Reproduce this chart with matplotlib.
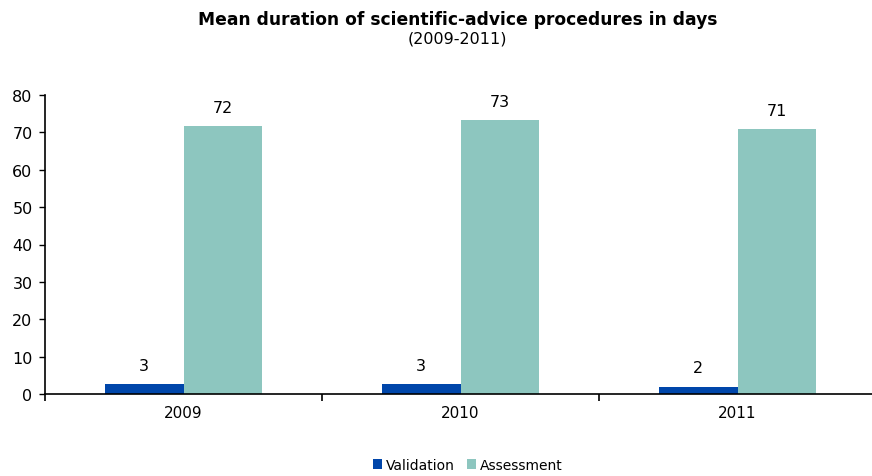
import matplotlib.pyplot as plt
from matplotlib.ticker import FixedLocator

years = ["2009", "2010", "2011"]
validation = [2.7, 2.7, 2.0]
assessment = [71.8, 73.3, 70.9]
validation_labels = ["3", "3", "2"]
assessment_labels = ["72", "73", "71"]

plt.rcParams["font.family"] = "DejaVu Sans"

fig = plt.figure(figsize=(8.72, 4.77), dpi=100)
ax = fig.add_axes([45 / 872, 1 - 395 / 477, 831 / 872, 299 / 477])

x = range(len(years))
w = 0.285
b1 = ax.bar([i - w / 2 for i in x], validation, w, color="#0046AA", label="Validation")
b2 = ax.bar([i + w / 2 for i in x], assessment, w, color="#8DC6BF", label="Assessment")

# value labels above the bars
for bar, lab in zip(b1, validation_labels):
    ax.annotate(lab, (bar.get_x() + bar.get_width() / 2, bar.get_height()),
                xytext=(0, 8), textcoords="offset points", ha="center", va="bottom", fontsize=11.5)
for bar, lab in zip(b2, assessment_labels):
    ax.annotate(lab, (bar.get_x() + bar.get_width() / 2, bar.get_height()),
                xytext=(0, 8), textcoords="offset points", ha="center", va="bottom", fontsize=11.5)

ax.set_xlim(-0.5, 2.5)
ax.set_ylim(0, 80)
ax.set_yticks(range(0, 81, 10))
ax.set_xticks(list(x))
ax.set_xticklabels(years)
ax.xaxis.set_minor_locator(FixedLocator([-0.5, 0.5, 1.5, 2.5]))
ax.tick_params(axis="x", which="major", length=0, pad=8, labelsize=11)
ax.tick_params(axis="x", which="minor", length=5, width=1.2, direction="out")
ax.tick_params(axis="y", length=4, width=1.0, labelsize=11.5, pad=5)
ax.spines["top"].set_visible(False)
ax.spines["right"].set_visible(False)
ax.spines["left"].set_linewidth(1.2)
ax.spines["bottom"].set_linewidth(1.2)

fig.text(0.525, 1 - 20 / 477, "Mean duration of scientific-advice procedures in days",
         ha="center", va="center", fontsize=12.3, fontweight="bold")
fig.text(0.525, 1 - 39 / 477, "(2009-2011)", ha="center", va="center", fontsize=11.5)

fig.legend(handles=[b1, b2], loc="center", bbox_to_anchor=(468 / 872, 1 - 466 / 477),
           ncol=2, frameon=False, fontsize=10, handlelength=0.65, handleheight=0.65,
           handletextpad=0.25, columnspacing=0.9)

fig.savefig("out.png", dpi=100)
